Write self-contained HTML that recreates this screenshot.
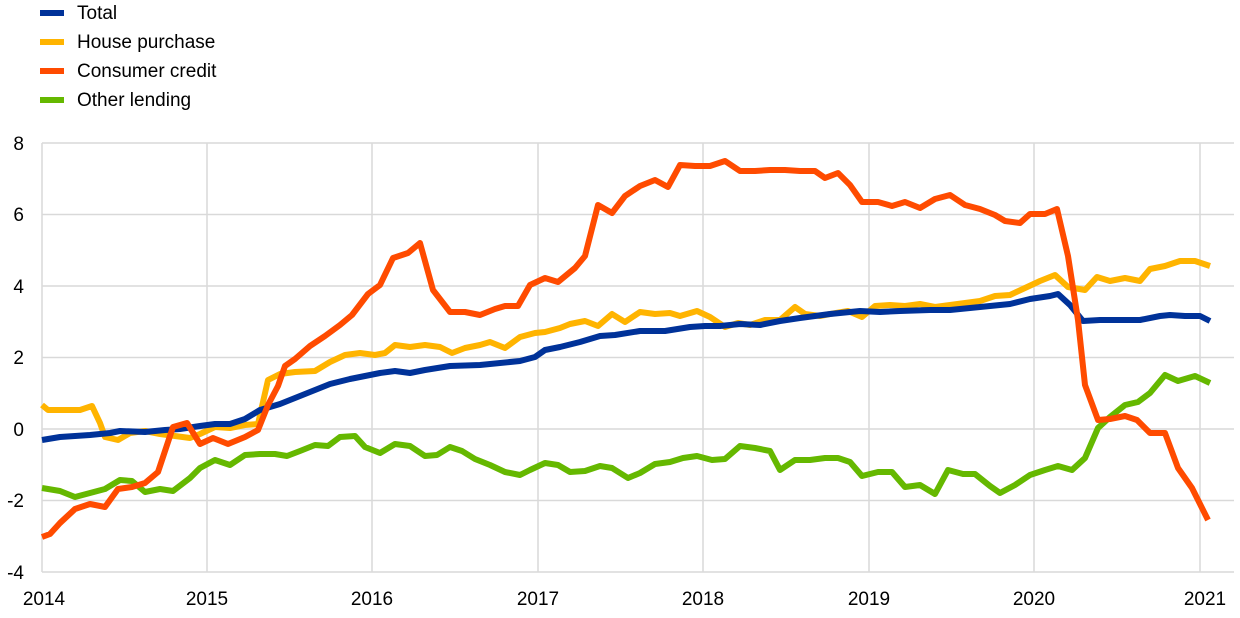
<!DOCTYPE html><html><head><style>body{margin:0;background:#fff}svg{display:block;font-family:"Liberation Sans",sans-serif}</style></head><body>
<svg width="1240" height="618" viewBox="0 0 1240 618">
<g stroke="#d9d9d9" stroke-width="1.5" fill="none">
<line x1="42" y1="143" x2="1234" y2="143"/><line x1="42" y1="214.5" x2="1234" y2="214.5"/><line x1="42" y1="286" x2="1234" y2="286"/><line x1="42" y1="357.5" x2="1234" y2="357.5"/><line x1="42" y1="429" x2="1234" y2="429"/><line x1="42" y1="500.5" x2="1234" y2="500.5"/><line x1="42" y1="572" x2="1234" y2="572"/>
<line x1="42" y1="143" x2="42" y2="572"/><line x1="207" y1="143" x2="207" y2="572"/><line x1="372" y1="143" x2="372" y2="572"/><line x1="538" y1="143" x2="538" y2="572"/><line x1="703" y1="143" x2="703" y2="572"/><line x1="869" y1="143" x2="869" y2="572"/><line x1="1034" y1="143" x2="1034" y2="572"/><line x1="1200" y1="143" x2="1200" y2="572"/>
</g>
<g font-size="19" fill="#000" text-anchor="end">
<text x="24" y="150">8</text><text x="24" y="221">6</text><text x="24" y="293">4</text><text x="24" y="364">2</text><text x="24" y="436">0</text><text x="24" y="507">-2</text><text x="24" y="579">-4</text>
</g>
<g font-size="19" fill="#000" text-anchor="middle">
<text x="44" y="605">2014</text><text x="207" y="605">2015</text><text x="372" y="605">2016</text><text x="538" y="605">2017</text><text x="703" y="605">2018</text><text x="869" y="605">2019</text><text x="1034" y="605">2020</text><text x="1205" y="605">2021</text>
</g>
<g fill="none" stroke-width="6" stroke-linejoin="round">
<polyline stroke="#65b800" points="42,488 60,491 75,497 90,493 105,489 120,480 132,481 145,492 160,489 173,491 190,478 200,468 215,460 230,465 245,455 260,454 275,454 287,456 300,451 315,445 328,446 340,437 355,436 365,447 380,453 395,444 410,446 425,456 437,455 450,447 462,451 475,459 490,465 505,472 520,475 530,470 545,463 558,465 570,472 585,471 600,466 612,468 628,478 640,473 655,464 670,462 683,458 697,456 712,460 725,459 740,446 755,448 770,451 780,470 795,460 810,460 825,458 838,458 850,462 862,476 878,472 892,472 905,487 920,485 935,494 948,470 963,474 975,474 990,486 1000,493 1015,485 1030,475 1045,470 1058,466 1072,470 1085,458 1098,428 1110,417 1125,405 1138,402 1150,393 1165,375 1178,381 1195,376 1210,383"/>
<polyline stroke="#ffb400" points="42,405 48,410 60,410 80,410 92,406 100,423 105,437 118,440 130,433 145,431 160,434 175,436 190,438 200,434 215,427 230,428 245,425 258,424 268,380 280,374 295,372 315,371 330,362 345,355 360,353 375,355 385,353 395,345 410,347 425,345 440,347 452,353 465,348 480,345 490,342 505,348 520,337 535,333 545,332 560,328 570,324 585,321 598,326 612,314 625,322 640,312 655,314 670,313 680,316 697,311 710,317 725,327 738,323 750,325 765,320 780,320 795,307 805,314 820,316 830,314 848,311 862,317 875,306 890,305 905,306 920,304 935,307 950,305 965,303 980,301 995,296 1010,295 1025,288 1040,281 1055,275 1068,287 1085,290 1097,277 1110,281 1125,278 1140,281 1150,269 1165,266 1180,261 1195,261 1210,266"/>
<polyline stroke="#003299" points="42,440 60,437 90,435 110,433 120,431 145,432 165,430 180,429 200,426 215,424 230,424 245,419 260,410 280,404 300,396 315,390 330,384 350,379 365,376 380,373 395,371 410,373 425,370 450,366 480,365 520,361 535,357 545,350 560,347 580,342 600,336 615,335 640,331 665,331 690,327 705,326 720,326 740,324 760,325 780,321 800,318 830,314 860,311 880,312 900,311 930,310 950,310 980,307 1010,304 1030,299 1050,296 1058,294 1070,305 1083,321 1100,320 1120,320 1140,320 1160,316 1170,315 1185,316 1200,316 1210,321"/>
<polyline stroke="#ff4b00" points="42,537 50,534 60,523 75,509 90,504 105,507 118,489 132,487 145,483 158,472 173,427 187,423 200,444 213,438 228,444 245,437 258,430 268,405 278,386 285,366 295,359 310,346 325,336 340,325 352,315 368,294 380,285 393,258 408,253 420,243 433,290 450,312 465,312 480,315 495,309 505,306 518,306 530,285 545,278 558,282 575,268 585,256 598,205 612,213 625,196 640,186 655,180 668,187 680,165 695,166 710,166 725,161 740,171 755,171 770,170 785,170 800,171 815,171 825,178 838,173 850,185 862,202 878,202 892,206 905,202 920,208 935,199 950,195 965,205 980,209 995,215 1005,221 1020,223 1030,214 1045,214 1057,209 1068,256 1078,320 1085,385 1098,420 1110,419 1125,416 1137,420 1150,433 1165,433 1178,468 1192,488 1208,520"/>
</g>
<g stroke-width="6">
<line x1="40" y1="13" x2="64" y2="13" stroke="#003299"/>
<line x1="40" y1="42" x2="64" y2="42" stroke="#ffb400"/>
<line x1="40" y1="71" x2="64" y2="71" stroke="#ff4b00"/>
<line x1="40" y1="100" x2="64" y2="100" stroke="#65b800"/>
</g>
<g font-size="19" fill="#000">
<text x="77" y="19">Total</text><text x="77" y="48">House purchase</text><text x="77" y="77">Consumer credit</text><text x="77" y="106">Other lending</text>
</g>
</svg></body></html>
